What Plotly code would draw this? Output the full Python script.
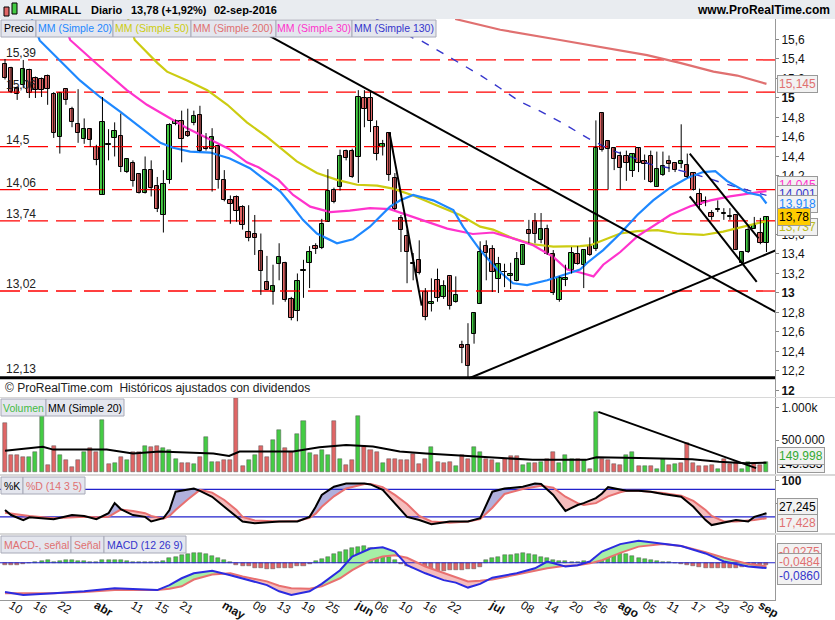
import pandas as pd
import plotly.graph_objects as go

# ---------------- data ----------------
HOLIDAYS = ['2016-03-25', '2016-03-28']
dates = [d.strftime('%Y-%m-%d') for d in pd.bdate_range('2016-03-09', '2016-09-02')
         if d.strftime('%Y-%m-%d') not in HOLIDAYS]
idx = list(range(len(dates)))

opens = [15.35, 15.31, 15.10, 15.13, 15.29, 15.21, 15.19, 15.23, 15.04, 14.60,
         15.09, 14.89, 14.73, 14.58, 14.68, 14.50, 14.01, 14.52, 14.59, 14.61,
         14.24, 14.33, 14.22, 14.03, 14.26, 14.10, 13.80, 14.16, 14.73, 14.76,
         14.65, 14.74, 14.83, 14.50, 14.48, 14.51, 14.16, 13.95, 13.98, 13.88,
         13.63, 13.60, 13.43, 13.11, 13.01, 13.30, 13.31, 12.94, 12.81, 13.23,
         13.31, 13.48, 13.46, 13.73, 14.06, 14.09, 14.46, 14.46, 14.39, 15.00,
         15.00, 14.70, 14.50, 14.64, 14.18, 13.77, 13.58, 13.31, 13.34, 13.01,
         12.89, 13.13, 12.96, 13.17, 12.91, 12.47, 12.47, 12.58, 12.89, 13.48,
         13.45, 13.14, 13.21, 13.17, 13.12, 13.29, 13.65, 13.74, 13.54, 13.66,
         13.40, 12.93, 13.13, 13.24, 13.40, 13.29, 13.48, 13.45, 14.85, 14.56,
         14.49, 14.40, 14.40, 14.25, 14.49, 14.35, 14.40, 14.09, 14.21, 14.35,
         14.33, 14.32, 14.31, 14.23, 14.02, 13.94, 13.82, 13.855, 13.81, 13.78,
         13.80, 13.31, 13.42, 13.66, 13.62, 13.51]
highs = [15.40, 15.32, 15.12, 15.39, 15.30, 15.22, 15.21, 15.24, 15.06, 15.06,
         15.09, 14.91, 15.09, 14.79, 14.69, 14.52, 15.01, 14.68, 14.75, 14.84,
         14.38, 14.36, 14.23, 14.40, 14.36, 14.19, 14.26, 14.74, 14.78, 14.87,
         14.89, 14.87, 14.92, 14.64, 14.69, 14.52, 14.26, 14.00, 14.00, 13.90,
         13.90, 13.80, 13.61, 13.38, 13.29, 13.51, 13.32, 12.96, 13.20, 13.34,
         13.48, 13.51, 13.76, 14.27, 14.08, 14.47, 14.47, 14.48, 15.08, 15.08,
         15.08, 14.77, 14.57, 14.65, 14.23, 13.80, 13.65, 13.41, 13.54, 13.05,
         13.15, 13.25, 13.13, 13.17, 13.17, 12.51, 12.69, 12.80, 13.53, 13.54,
         13.49, 13.37, 13.30, 13.31, 13.42, 13.49, 13.75, 13.82, 13.82, 13.70,
         13.44, 13.17, 13.29, 13.47, 13.48, 13.44, 13.57, 14.77, 14.85, 14.56,
         14.49, 14.45, 14.46, 14.43, 14.49, 14.42, 14.46, 14.45, 14.45, 14.41,
         14.33, 14.73, 14.43, 14.23, 14.07, 13.99, 13.85, 13.95, 13.87, 13.87,
         13.80, 13.42, 13.68, 13.78, 13.77, 13.78]
lows = [15.19, 15.05, 14.98, 15.10, 15.00, 15.00, 15.01, 14.93, 14.59, 14.43,
        14.93, 14.70, 14.54, 14.53, 14.50, 14.31, 14.01, 14.36, 14.40, 14.24,
        14.23, 14.09, 14.02, 14.02, 13.99, 13.83, 13.62, 14.12, 14.72, 14.34,
        14.60, 14.72, 14.45, 14.46, 14.04, 14.07, 13.94, 13.71, 13.73, 13.65,
        13.53, 13.39, 12.98, 13.03, 12.88, 13.13, 12.91, 12.72, 12.71, 12.95,
        13.05, 13.40, 13.45, 13.73, 13.92, 14.05, 14.36, 14.18, 14.13, 14.70,
        14.65, 14.36, 14.41, 14.15, 13.85, 13.42, 13.10, 13.13, 13.19, 12.72,
        12.81, 12.91, 12.94, 12.83, 12.90, 12.28, 12.13, 12.48, 12.89, 13.13,
        13.01, 13.00, 13.06, 13.04, 13.12, 13.29, 13.51, 13.51, 13.51, 13.39,
        12.98, 12.91, 13.07, 13.20, 13.29, 13.05, 13.38, 13.43, 14.45, 14.06,
        14.26, 14.06, 14.15, 14.19, 14.24, 14.16, 14.13, 14.09, 14.20, 14.24,
        14.24, 14.28, 14.18, 14.05, 13.85, 13.89, 13.75, 13.83, 13.75, 13.75,
        13.44, 13.30, 13.41, 13.66, 13.50, 13.42]
closes = [15.20, 15.06, 15.04, 15.30, 15.05, 15.08, 15.08, 15.09, 14.64, 15.05,
          14.98, 14.75, 14.64, 14.68, 14.57, 14.36, 14.75, 14.53, 14.66, 14.29,
          14.37, 14.15, 14.03, 14.26, 14.08, 13.86, 14.12, 14.72, 14.76, 14.58,
          14.61, 14.82, 14.46, 14.48, 14.60, 14.16, 13.95, 13.91, 13.84, 13.70,
          13.56, 13.56, 13.23, 13.03, 13.07, 13.37, 12.93, 12.74, 13.12, 13.23,
          13.42, 13.45, 13.71, 14.05, 13.93, 14.40, 14.38, 14.19, 15.01, 14.89,
          14.76, 14.43, 14.53, 14.21, 13.86, 13.65, 13.42, 13.30, 13.20, 12.75,
          12.91, 12.95, 13.07, 12.87, 12.98, 12.44, 12.25, 12.79, 13.42, 13.41,
          13.22, 13.30, 13.21, 13.19, 13.35, 13.49, 13.61, 13.60, 13.66, 13.40,
          13.00, 13.15, 13.15, 13.41, 13.30, 13.44, 13.39, 14.49, 14.47, 14.48,
          14.37, 14.28, 14.33, 14.43, 14.33, 14.32, 14.14, 14.27, 14.30, 14.32,
          14.26, 14.35, 14.19, 14.06, 13.90, 13.93, 13.78, 13.865, 13.81, 13.78,
          13.44, 13.42, 13.65, 13.70, 13.51, 13.78]
volumes = [770, 265, 265, 230, 230, 320, 930, 110, 410, 260,
           180, 80, 190, 320, 370, 320, 810, 125, 145, 240,
           180, 320, 320, 400, 385, 410, 370, 350, 210, 145,
           145, 125, 240, 550, 160, 160, 180, 180, 1150, 95,
           190, 265, 400, 230, 500, 660, 370, 320, 600, 800,
           300, 265, 350, 265, 790, 210, 110, 190, 875, 410,
           350, 320, 145, 200, 200, 190, 180, 280, 125, 210,
           385, 160, 145, 160, 95, 265, 210, 385, 320, 210,
           190, 145, 200, 250, 250, 110, 145, 145, 160, 210,
           320, 145, 265, 210, 210, 180, 40, 930, 210, 180,
           125, 110, 265, 320, 95, 95, 95, 40, 200, 110,
           125, 145, 450, 145, 95, 95, 110, 40, 200, 125,
           160, 40, 160, 125, 110, 150]  # thousands of shares
# bar colour of each volume bar as seen on the chart: g = up, r = down
volume_dir = ('rrrrgggrrg' 'rrrgrrgrgr' 'grrgrrgggr' 'rgrggrrrrr' 'ggrrggrrgg'
              'grggrgrrgr' 'rrgrrrrrrr' 'grrrgrrggr' 'rgrrrggrgr' 'rgggrgrgrr'
              'rrggrgrggr' 'grrrrrrgrr' 'rggrrg')

# moving averages (candle index, value)
sma20_idx = [4.4, 5.7, 12.3, 15.6, 18.9, 22.2, 25.5, 27.6, 30.4, 33.7, 36.9, 40.2, 42.7, 45.2,
             46.8, 48.9, 51.2, 54.5, 57.1, 59.9, 63.2, 64.9, 67, 70.3, 73.6, 75.2, 78, 80.8,
             83.4, 85.7, 89, 91.6, 94.4, 95.6, 98.2, 101, 103.8, 106.4, 109.2, 112, 114.6,
             116.6, 118.5, 121.8, 124, 125]
sma20_val = [15.81, 15.59, 15.18, 15.01, 14.86, 14.70, 14.54, 14.49, 14.45, 14.44, 14.38, 14.28,
             14.16, 14.04, 13.92, 13.75, 13.61, 13.51, 13.55, 13.68, 13.885, 13.95, 14.005, 13.95,
             13.85, 13.68, 13.44, 13.24, 13.10, 13.08, 13.13, 13.18, 13.24, 13.31, 13.44, 13.61,
             13.80, 13.95, 14.08, 14.18, 14.24, 14.25, 14.15, 14.03, 14.00, 13.918]
sma30_idx = [9.4, 10.7, 15.6, 20.0, 23.3, 26.6, 29.9, 33.5, 36.7, 39.7, 41.6, 44.9, 47.3, 50.1,
             53.4, 56.6, 59.9, 63.2, 67, 72.6, 76.8, 80.1, 83.4, 86.7, 90, 92.3, 94.4, 96.6,
             98.2, 101, 103.8, 107.1, 109.2, 112.5, 115.8, 119, 122.3, 125]
sma30_val = [15.81, 15.595, 15.32, 15.08, 14.93, 14.81, 14.69, 14.58, 14.48, 14.34, 14.29, 14.16,
             14.005, 13.885, 13.83, 13.845, 13.87, 13.86, 13.78, 13.66, 13.605, 13.62, 13.56,
             13.49, 13.37, 13.24, 13.21, 13.17, 13.29, 13.42, 13.58, 13.72, 13.80, 13.89, 13.95,
             13.99, 14.02, 14.045]
sma50_idx = [20.2, 21.3, 25, 26.6, 29.9, 33.2, 36.5, 39.7, 43, 45.2, 47.9, 51.2, 54.5, 57.8,
             61.1, 63.7, 67, 71.4, 74.7, 78, 80.1, 83.4, 86.7, 90, 94.4, 96.1, 98.2, 101,
             103.8, 107.1, 110.3, 114.6, 117.9, 121.2, 125]
sma50_val = [15.81, 15.595, 15.36, 15.27, 15.18, 15.08, 14.93, 14.75, 14.60, 14.49, 14.35, 14.23,
             14.16, 14.11, 14.10, 14.07, 14.00, 13.885, 13.80, 13.68, 13.65, 13.56, 13.50, 13.475,
             13.48, 13.49, 13.54, 13.61, 13.635, 13.645, 13.61, 13.595, 13.63, 13.68, 13.737]
sma200_idx = [73.9, 81.3, 91.1, 97.2, 105.4, 110.8, 116.3, 120.2, 125]
sma200_val = [15.81, 15.70, 15.595, 15.53, 15.44, 15.36, 15.27, 15.23, 15.145]
sma130_idx = [60.9, 67, 68.1, 71.4, 74.7, 78, 81.3, 84.6, 87.4, 91.6, 95.6, 99.3, 102.6, 105.9,
              109.2, 112.5, 115.8, 117.9, 125]
sma130_val = [15.81, 15.615, 15.595, 15.475, 15.355, 15.235, 15.10, 14.96, 14.88, 14.74, 14.59,
              14.47, 14.40, 14.32, 14.28, 14.23, 14.17, 14.125, 14.001]

level_vals = [15.39, 15.06, 14.5, 14.06, 13.74, 13.02]
level_txt = ['15,39', '15,06', '14,5', '14,06', '13,74', '13,02']
support_val = 12.13

# drawn trend lines: (start index, start price, end index, end price)
price_trends = [(42.5, 15.667, 127.5, 12.77),
                (76.2, 12.125, 127.0, 13.45),
                (63.1, 14.65, 68.4, 12.87),
                (112.4, 14.43, 123.7, 13.56),
                (112.4, 13.99, 123.4, 13.115)]
volume_trend = (97.4, 940, 123.3, 60)

volma_idx = [0, 6.2, 7.9, 16.7, 21, 25.4, 34.2, 36.8, 38.5, 47.3, 51.6, 56, 60.4, 64.8, 69.1,
             77.9, 86.6, 95.4, 97.1, 104.1, 112.8, 117.2, 121.6, 125]
volma_val = [333, 395, 350, 350, 290, 320, 290, 250, 320, 320, 385, 420, 400, 320, 290,
             240, 190, 190, 230, 220, 200, 160, 135, 145]

stoch_idx = [0, 1, 3, 4, 8, 11, 13, 15, 17, 18, 19, 21, 23, 24, 26, 27, 28, 30, 31, 32, 34, 36,
             38, 39, 41, 45, 48, 50, 51, 52, 54, 56, 59, 60, 62, 64, 66, 68, 70, 73, 76, 78, 80,
             82, 85, 87, 88, 90, 92, 94, 95, 97, 98, 99, 101, 102, 104, 106, 108, 109, 111, 113,
             115, 116, 118, 120, 122, 123, 125]
k_vals = [35, 24, 13, 19, 15, 24, 22, 15, 28, 50, 37, 24, 20, 10, 17, 35, 75, 79, 82, 77, 64, 42,
          20, 10, 6, 10, 10, 20, 42, 68, 86, 93, 93, 91, 79, 50, 20, 13, 4, 10, 10, 17, 75,
          82, 86, 93, 92, 68, 33, 46, 50, 61, 71, 85, 80, 77, 77, 75, 70, 68, 64, 42,
          13, 2, 7, 13, 10, 20, 28]
d_vals = [29, 27, 24, 22, 17, 19, 20, 19, 20, 28, 36, 33, 28, 22, 16, 22, 35, 58, 68, 79, 73, 57,
          35, 20, 12, 10, 11, 18, 27, 42, 65, 82, 92, 92, 85, 68, 48, 22, 10, 7, 10, 15, 40,
          70, 81, 86, 88, 84, 64, 50, 46, 50, 58, 65, 74, 77, 77, 75, 72, 70, 66, 55,
          35, 22, 10, 10, 12, 13, 17]

macd_idx = [0, 3, 8, 13, 18, 25, 27, 29, 31, 34, 37, 39, 43, 45, 47, 50, 52, 55, 57, 60, 62, 64,
            66, 69, 72, 74, 76, 78, 80, 84, 87, 89, 92, 94, 96, 98, 101, 104, 108, 111, 115, 118,
            122, 125]
macd_vals = [-0.47, -0.52, -0.49, -0.46, -0.41, -0.44, -0.36, -0.25, -0.17, -0.13, -0.20, -0.25,
             -0.36, -0.46, -0.52, -0.46, -0.34, -0.12, 0.10, 0.23, 0.25, 0.18, -0.04, -0.17,
             -0.28, -0.32, -0.40, -0.34, -0.24, -0.17, -0.09, 0.02, -0.06, -0.04, 0.02, 0.18,
             0.30, 0.355, 0.31, 0.27, 0.15, 0.02, -0.06, -0.086]
signal_vals = [-0.49, -0.49, -0.49, -0.47, -0.44, -0.44, -0.42, -0.38, -0.27, -0.19, -0.17, -0.22,
               -0.30, -0.37, -0.41, -0.42, -0.38, -0.25, -0.12, 0.04, 0.10, 0.12, 0.08, -0.06,
               -0.16, -0.23, -0.30, -0.29, -0.27, -0.19, -0.13, -0.09, -0.05, -0.04, -0.01, 0.04,
               0.16, 0.26, 0.30, 0.27, 0.17, 0.08, -0.02, -0.058]
hist_vals = [-0.03, -0.03, -0.03, -0.02, 0.0, 0.01, 0.03, 0.04, 0.02,
             0.03, 0.04, 0.04, 0.03, 0.03, 0.02, 0.01,
             0.04, 0.05, 0.05, 0.04, 0.03,
             0.02, 0.01, 0.02, 0.01, 0.005, 0.03,
             0.08, 0.10, 0.12, 0.14, 0.15, 0.16, 0.14, 0.11, 0.08, 0.04, 0.01,
             -0.03, -0.05, -0.06, -0.08, -0.09, -0.10, -0.10, -0.09, -0.09, -0.08, -0.06, -0.05, -0.02,
             0.03, 0.06, 0.10, 0.14, 0.18, 0.21, 0.24, 0.26, 0.27, 0.24, 0.20, 0.15, 0.10, 0.05,
             -0.02, -0.05, -0.08, -0.10, -0.12, -0.13, -0.13, -0.13, -0.12, -0.12, -0.11, -0.10, -0.10, -0.07,
             0.04, 0.07, 0.10, 0.12, 0.13, 0.14, 0.15, 0.14, 0.13, 0.10, 0.07, 0.05,
             0.03, 0.03, 0.02, 0.02, 0.03, 0.02,
             0.08, 0.14, 0.17, 0.18, 0.17, 0.14, 0.11, 0.08,
             0.06, 0.04, 0.03, 0.02, 0.01, 0.0,
             -0.02, -0.03, -0.05, -0.07, -0.08, -0.09, -0.09, -0.09, -0.08, -0.08, -0.07, -0.06, -0.05, -0.04, -0.03]

tick_dates = ['2016-03-10', '2016-03-16', '2016-03-22', '2016-04-01', '2016-04-11', '2016-04-15',
              '2016-04-21', '2016-05-02', '2016-05-09', '2016-05-13', '2016-05-19', '2016-05-25',
              '2016-06-01', '2016-06-06', '2016-06-10', '2016-06-16', '2016-06-22', '2016-07-01',
              '2016-07-08', '2016-07-14', '2016-07-20', '2016-07-26', '2016-08-01', '2016-08-05',
              '2016-08-11', '2016-08-17', '2016-08-23', '2016-08-29', '2016-09-01']
tick_text = ['10', '16', '22', '<b>abr</b>', '11', '15', '21', '<b>may</b>', '09', '13', '19', '25',
             '<b>jun</b>', '06', '10', '16', '22', '<b>jul</b>', '08', '14', '20', '26', '<b>ago</b>',
             '05', '11', '17', '23', '29', '<b>sep</b>']

# ---------------- styling ----------------
FONT = 'Liberation Sans, Arial, sans-serif'
GREEN = '#44CC44'
RED = '#E06666'
C20, C50, C200, C30, C130 = '#1E88FF', '#CCCC11', '#E07070', '#FF33CC', '#3535CC'
W, H = 835, 620
PLOT_W = 775
X_RANGE = [-0.82, 126.4]


def py(ypix):  # pixel row -> paper fraction (plot area = rows 0..600)
    return 1 - ypix / 600.0


def px(xpix):
    return xpix / PLOT_W


fig = go.Figure()
NOHOVER = dict(hoverinfo='skip', showlegend=False)

# red dashed levels
for v in level_vals:
    fig.add_trace(go.Scatter(x=X_RANGE, y=[v, v], mode='lines',
                             line=dict(color='#FF0000', width=1.3, dash='20px,8px'), **NOHOVER))
fig.add_trace(go.Scatter(x=X_RANGE, y=[support_val, support_val], mode='lines',
                         line=dict(color='black', width=3), **NOHOVER))

# moving averages
for xs, ys, col, dash in [(sma200_idx, sma200_val, C200, None), (sma130_idx, sma130_val, C130, '8px,9px'),
                          (sma50_idx, sma50_val, C50, None), (sma30_idx, sma30_val, C30, None),
                          (sma20_idx, sma20_val, C20, None)]:
    fig.add_trace(go.Scatter(x=xs, y=ys, mode='lines',
                             line=dict(color=col, width=2.2 if dash is None else 1.4, dash=dash), **NOHOVER))

# candles: wicks then bodies
wx, wy = [], []
for i, h, l in zip(idx, highs, lows):
    wx += [i, i, None]
    wy += [l, h, None]
fig.add_trace(go.Scatter(x=wx, y=wy, mode='lines', line=dict(color='black', width=1), **NOHOVER))
body_base = [min(o, c) for o, c in zip(opens, closes)]
body_h = [max(abs(c - o), 0.006) for o, c in zip(opens, closes)]
body_col = [GREEN if c >= o else RED for o, c in zip(opens, closes)]
fig.add_trace(go.Bar(x=idx, y=body_h, base=body_base, width=0.72,
                     marker=dict(color=body_col, line=dict(color='black', width=1)), **NOHOVER))

# trend lines
for (x0, y0, x1, y1) in price_trends:
    fig.add_trace(go.Scatter(x=[x0, x1], y=[y0, y1], mode='lines', line=dict(color='black', width=2), **NOHOVER))

# volume
vol_col = [GREEN if d == 'g' else RED for d in volume_dir]
fig.add_trace(go.Bar(x=idx, y=[v * 1000 for v in volumes],
                     marker=dict(color=vol_col, line=dict(color='#555555', width=0.5)),
                     width=0.66, yaxis='y2', **NOHOVER))
fig.add_trace(go.Scatter(x=volma_idx, y=[v * 1000 for v in volma_val], mode='lines',
                         line=dict(color='black', width=2), yaxis='y2', **NOHOVER))
fig.add_trace(go.Scatter(x=[volume_trend[0], volume_trend[2]], y=[volume_trend[1] * 1000, volume_trend[3] * 1000],
                         mode='lines', line=dict(color='black', width=2), yaxis='y2', **NOHOVER))


def regions(xs, a, b):
    out = []
    cx, ca, cb = [xs[0]], [a[0]], [b[0]]
    for k in range(1, len(xs)):
        d0, d1 = a[k - 1] - b[k - 1], a[k] - b[k]
        if d0 * d1 < 0:
            t = d0 / (d0 - d1)
            xc = xs[k - 1] + t * (xs[k] - xs[k - 1])
            yc = a[k - 1] + t * (a[k] - a[k - 1])
            cx.append(xc); ca.append(yc); cb.append(yc)
            out.append((cx, ca, cb))
            cx, ca, cb = [xc], [yc], [yc]
        cx.append(xs[k]); ca.append(a[k]); cb.append(b[k])
    out.append((cx, ca, cb))
    return out


# stochastic
for cx, ca, cb in regions(stoch_idx, k_vals, d_vals):
    up = sum(p - q for p, q in zip(ca, cb)) > 0
    fig.add_trace(go.Scatter(x=cx + cx[::-1], y=ca + cb[::-1], fill='toself', mode='lines',
                             line=dict(width=0), fillcolor='#B0B0DC' if up else '#F5BDBD',
                             yaxis='y3', **NOHOVER))
for lv in [80, 20]:
    fig.add_trace(go.Scatter(x=X_RANGE, y=[lv, lv], mode='lines', line=dict(color='#2222CC', width=1.2),
                             yaxis='y3', **NOHOVER))
fig.add_trace(go.Scatter(x=stoch_idx, y=d_vals, mode='lines', line=dict(color='#E87070', width=2),
                         yaxis='y3', **NOHOVER))
fig.add_trace(go.Scatter(x=stoch_idx, y=k_vals, mode='lines', line=dict(color='black', width=2),
                         yaxis='y3', **NOHOVER))

# MACD
fig.add_trace(go.Bar(x=idx, y=hist_vals, marker=dict(color=[GREEN if h >= 0 else RED for h in hist_vals],
                                                     line=dict(color='#555555', width=0.5)),
                     width=0.66, yaxis='y4', **NOHOVER))
for cx, ca, cb in regions(macd_idx, macd_vals, signal_vals):
    up = sum(p - q for p, q in zip(ca, cb)) > 0
    fig.add_trace(go.Scatter(x=cx + cx[::-1], y=ca + cb[::-1], fill='toself', mode='lines',
                             line=dict(width=0), fillcolor='#A6EFA6' if up else '#F5BDBD',
                             yaxis='y4', **NOHOVER))
fig.add_trace(go.Scatter(x=X_RANGE, y=[0, 0], mode='lines', line=dict(color='#2222CC', width=1.2),
                         yaxis='y4', **NOHOVER))
fig.add_trace(go.Scatter(x=macd_idx, y=signal_vals, mode='lines', line=dict(color='#E87070', width=2),
                         yaxis='y4', **NOHOVER))
fig.add_trace(go.Scatter(x=macd_idx, y=macd_vals, mode='lines', line=dict(color='#2B2BE0', width=2),
                         yaxis='y4', **NOHOVER))

# ---------------- axes ----------------
price_ticks = [round(12 + 0.2 * k, 1) for k in range(19)]
price_ticks = [t for t in price_ticks if t not in (14.0, 13.8)]  # hidden behind value boxes
price_ticktext = []
for t in price_ticks:
    s = ('%.1f' % t).rstrip('0').rstrip('.').replace('.', ',')
    price_ticktext.append('<b>%s</b>' % s if abs(t - round(t)) < 1e-6 else s)

tickvals = [dates.index(d) for d in tick_dates]
axis_common = dict(side='right', showgrid=False, zeroline=False, ticks='outside', ticklen=3,
                   tickcolor='#888', tickfont=dict(family=FONT, size=12, color='#111'),
                   showline=True, linecolor='#999', mirror=True, automargin=False)

fig.update_layout(
    width=W, height=H, margin=dict(l=0, r=W - PLOT_W, t=0, b=20, autoexpand=False),
    plot_bgcolor='white', paper_bgcolor='white', showlegend=False, bargap=0, barmode='overlay',
    xaxis=dict(range=X_RANGE, anchor='y4', tickvals=tickvals, ticktext=tick_text, showgrid=False,
               zeroline=False, ticks='', ticklabelstandoff=-7,
               tickfont=dict(family=FONT, size=12, color='#111'),
               showline=True, linecolor='#999', mirror=False, automargin=False),
    yaxis=dict(domain=[py(397), py(19)], range=[11.933, 15.81], tickvals=price_ticks,
               ticktext=price_ticktext, anchor='x', **axis_common),
    yaxis2=dict(domain=[py(474), py(398)], range=[-31000, 1156000], tickvals=[500000, 1000000],
                ticktext=['500.000', '1.000k'], anchor='x', **axis_common),
    yaxis3=dict(domain=[py(533), py(476)], range=[-15.3, 109.4], tickvals=[50, 100],
                ticktext=['50', '<b>100</b>'], anchor='x', **axis_common),
    yaxis4=dict(domain=[0, py(535)], range=[-0.60, 0.447], tickvals=[], anchor='x', **axis_common),
)

# ---------------- annotations ----------------
ann = []
shapes = [dict(type='rect', xref='paper', yref='paper', x0=0, x1=W / PLOT_W, y0=py(19), y1=py(0) + 0.001,
               fillcolor='#E9ECF0', line=dict(width=0), layer='below')]
for xt, txt in [(23, 'ALMIRALL'), (89, 'Diario'), (129, '13,78 (+1,92%)'), (212, '02-sep-2016')]:
    ann.append(dict(x=px(xt), y=py(9.5), xref='paper', yref='paper', xanchor='left', yanchor='middle',
                    text='<b>%s</b>' % txt, showarrow=False, font=dict(family=FONT, size=11, color='black')))
ann.append(dict(x=px(832), y=py(10), xref='paper', yref='paper', xanchor='right', yanchor='middle',
                text='<b>www.ProRealTime.com</b>', showarrow=False,
                font=dict(family=FONT, size=12, color='black')))
shapes += [dict(type='rect', xref='paper', yref='paper', x0=px(4), x1=px(9), y0=py(16), y1=py(7),
                fillcolor=RED, line=dict(color='black', width=1)),
           dict(type='rect', xref='paper', yref='paper', x0=px(12), x1=px(17), y0=py(14), y1=py(3),
                fillcolor=GREEN, line=dict(color='black', width=1))]


def legend_row(items, ytop, x0=1):
    x = x0
    for txt, col, wpx in items:
        shapes.append(dict(type='rect', xref='paper', yref='paper', x0=px(x), x1=px(x + wpx),
                           y0=py(ytop + 17), y1=py(ytop), fillcolor='#E4E6EE',
                           line=dict(color='#A8AAB8', width=1)))
        ann.append(dict(x=px(x + wpx / 2), y=py(ytop + 8.5), xref='paper', yref='paper', text=txt,
                        showarrow=False, xanchor='center', yanchor='middle',
                        font=dict(family=FONT, size=10.5, color=col)))
        x += wpx


legend_row([('Precio', 'black', 35), ('MM (Simple 20)', C20, 77), ('MM (Simple 50)', C50, 78),
            ('MM (Simple 200)', C200, 85), ('MM (Simple 30)', C30, 76), ('MM (Simple 130)', C130, 84)], 20)
legend_row([('Volumen', '#44BB44', 45), ('MM (Simple 20)', 'black', 78)], 399)
legend_row([('%K', 'black', 22), ('%D (14 3 5)', '#E07070', 62)], 477)
legend_row([('MACD-, señal', '#E07070', 70), ('Señal', '#E07070', 33), ('MACD (12 26 9)', '#3535CC', 82)], 536)

for v, t in zip(level_vals, level_txt):
    ann.append(dict(x=px(4), y=v, xref='paper', yref='y', text=t, showarrow=False, xanchor='left',
                    yanchor='bottom', yshift=-2, font=dict(family=FONT, size=12, color='#222')))
ann.append(dict(x=px(4), y=support_val, xref='paper', yref='y', text='12,13', showarrow=False,
                xanchor='left', yanchor='bottom', yshift=0, font=dict(family=FONT, size=12, color='#222')))
ann.append(dict(x=px(3), y=py(388), xref='paper', yref='paper',
                text='© ProRealTime.com  Históricos ajustados con dividendos', showarrow=False,
                xanchor='left', yanchor='middle', font=dict(family=FONT, size=12, color='#222')))


def vbox(val, txt, col, yref, bg='#F2F2F2', shift=0):
    ann.append(dict(x=1, y=val, xref='paper', yref=yref, text=txt, showarrow=False, xanchor='left',
                    yanchor='middle', xshift=2, yshift=shift, bgcolor=bg, bordercolor='#999999',
                    borderwidth=1, borderpad=1, font=dict(family=FONT, size=12, color=col)))


vbox(15.145, '15,145', C200, 'y')
vbox(14.045, '14,045', C30, 'y', shift=6)
vbox(14.001, '14,001', C130, 'y', shift=1)
vbox(13.918, '13,918', C20, 'y', shift=-1)
vbox(13.737, '13,737', '#BBBB22', 'y', shift=-6)
vbox(13.78, '13,78', 'black', 'y', bg='#FFCC00')
vbox(145333, '145.333', 'black', 'y2', shift=-1)
vbox(149998, '149.998', '#33AA33', 'y2', shift=6)
vbox(27.245, '27,245', 'black', 'y3', shift=7)
vbox(17.428, '17,428', '#E07070', 'y3', shift=-5)
vbox(-0.0275, '-0,0275', '#E07070', 'y4', shift=12)
vbox(-0.0584, '-0,0484', '#E07070', 'y4', shift=4)
vbox(-0.086, '-0,0860', '#3535CC', 'y4', shift=-8)

for ya, yb in [(397, 398), (474, 476), (533, 535)]:
    shapes.append(dict(type='rect', xref='paper', yref='paper', x0=0, x1=W / PLOT_W, y0=py(yb), y1=py(ya),
                       fillcolor='#D8D8D8', line=dict(width=0)))

fig.update_layout(annotations=ann, shapes=shapes)
fig.write_html('out.html')
